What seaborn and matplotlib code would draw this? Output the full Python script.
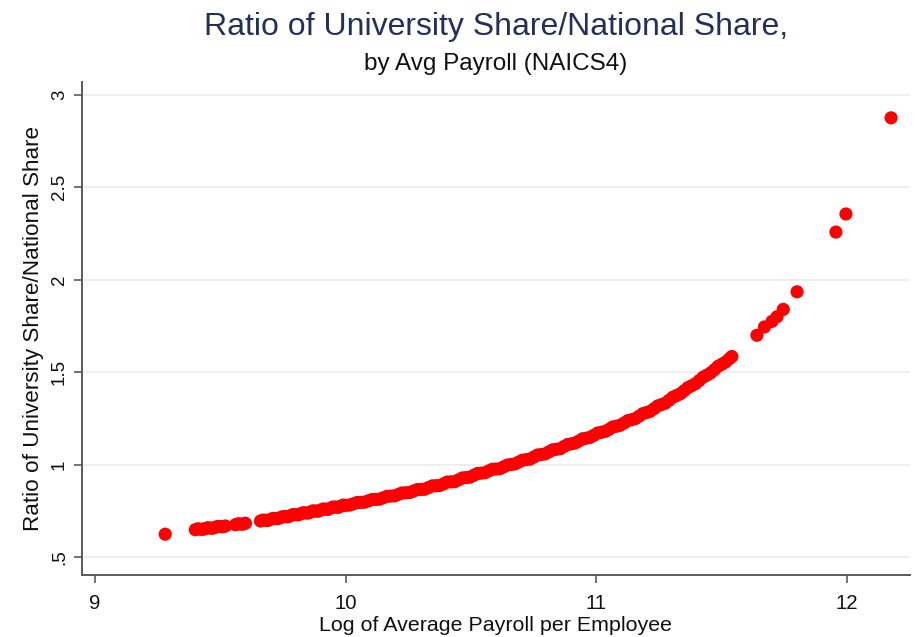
import matplotlib
matplotlib.use("Agg")
import matplotlib.pyplot as plt
import seaborn as sns
import pandas as pd

# Log of average payroll per employee (NAICS4 industries)
log_payroll = [
    9.28,
    9.40, 9.42, 9.44, 9.46, 9.48, 9.50, 9.52, 9.56, 9.58, 9.60,
    9.66, 9.68, 9.70, 9.72, 9.74, 9.76, 9.78, 9.80, 9.82, 9.84,
    9.86, 9.88, 9.90, 9.92, 9.94, 9.96, 9.98, 10.00, 10.03, 10.06,
    10.09, 10.12, 10.15, 10.18, 10.21, 10.24, 10.27, 10.30, 10.33, 10.36,
    10.39, 10.42, 10.45, 10.48, 10.51, 10.54, 10.57, 10.60, 10.63, 10.66,
    10.69, 10.72, 10.75, 10.78, 10.81, 10.84, 10.87, 10.90, 10.93, 10.96,
    10.99, 11.02, 11.05, 11.08, 11.11, 11.14, 11.17, 11.20, 11.23, 11.26,
    11.29, 11.32, 11.35, 11.38, 11.41, 11.44, 11.47, 11.50, 11.53, 11.54,
    9.41, 9.43, 9.45, 9.47, 9.49, 9.51, 9.57, 9.59, 9.67, 9.69,
    9.71, 9.73, 9.75, 9.77, 9.79, 9.81, 9.83, 9.85, 9.87, 9.89,
    9.91, 9.93, 9.95, 9.97, 9.99, 10.015, 10.045, 10.075, 10.105, 10.135,
    10.165, 10.195, 10.225, 10.255, 10.285, 10.315, 10.345, 10.375, 10.405, 10.435,
    10.465, 10.495, 10.525, 10.555, 10.585, 10.615, 10.645, 10.675, 10.705, 10.735,
    10.765, 10.795, 10.825, 10.855, 10.885, 10.915, 10.945, 10.975, 11.005, 11.035,
    11.065, 11.095, 11.125, 11.155, 11.185, 11.215, 11.245, 11.275, 11.305, 11.335,
    11.365, 11.395, 11.425, 11.455, 11.485, 11.515,
    11.64, 11.67, 11.70, 11.72, 11.745, 11.80, 11.955, 11.995, 12.175,
]
# Ratio of university share / national share
share_ratio = [
    0.624,
    0.648, 0.651, 0.654, 0.657, 0.661, 0.665, 0.668, 0.675, 0.679, 0.683,
    0.695, 0.699, 0.704, 0.709, 0.714, 0.719, 0.724, 0.729, 0.734, 0.739,
    0.744, 0.749, 0.754, 0.759, 0.765, 0.770, 0.775, 0.780, 0.788, 0.796,
    0.804, 0.812, 0.821, 0.830, 0.839, 0.848, 0.857, 0.866, 0.876, 0.886,
    0.896, 0.907, 0.918, 0.930, 0.942, 0.954, 0.966, 0.976, 0.988, 1.001,
    1.014, 1.027, 1.041, 1.055, 1.069, 1.083, 1.098, 1.113, 1.128, 1.143,
    1.159, 1.175, 1.191, 1.208, 1.225, 1.243, 1.262, 1.282, 1.303, 1.325,
    1.349, 1.374, 1.400, 1.427, 1.455, 1.484, 1.513, 1.543, 1.573, 1.585,
    0.653, 0.650, 0.659, 0.656, 0.666, 0.664, 0.680, 0.678, 0.700, 0.698,
    0.709, 0.708, 0.719, 0.718, 0.730, 0.728, 0.740, 0.738, 0.750, 0.748,
    0.760, 0.758, 0.771, 0.769, 0.781, 0.781, 0.795, 0.797, 0.811, 0.813,
    0.829, 0.831, 0.847, 0.849, 0.865, 0.867, 0.885, 0.887, 0.906, 0.908,
    0.928, 0.932, 0.952, 0.956, 0.975, 0.978, 0.998, 1.004, 1.024, 1.030,
    1.052, 1.058, 1.080, 1.086, 1.109, 1.117, 1.140, 1.148, 1.171, 1.180,
    1.204, 1.213, 1.238, 1.249, 1.276, 1.289, 1.318, 1.333, 1.365, 1.384,
    1.417, 1.438, 1.473, 1.496, 1.532, 1.555,
    1.700, 1.745, 1.775, 1.800, 1.840, 1.935, 2.258, 2.356, 2.876,
]

x_ticks = [9, 10, 11, 12]
x_tick_labels = ["9", "10", "11", "12"]
y_ticks = [0.5, 1, 1.5, 2, 2.5, 3]
y_tick_labels = [".5", "1", "1.5", "2", "2.5", "3"]

df = pd.DataFrame({"x": log_payroll, "y": share_ratio})

sns.set_theme(style="white")
plt.rcParams["font.family"] = ["Liberation Sans", "DejaVu Sans"]

fig = plt.figure(figsize=(9.23, 6.37), dpi=100)
ax = fig.add_axes([0.0888, 0.0973, 0.897, 0.774])

ax.set_xlim(8.948, 12.25)
ax.set_ylim(0.403, 3.07)
for yv in y_ticks:
    ax.axhline(yv, color="#ececec", lw=1.2, zorder=0)

sns.scatterplot(data=df, x="x", y="y", ax=ax, color="#ff0000",
                edgecolor="none", s=90, linewidth=0, zorder=3)

ax.set_xticks(x_ticks)
ax.set_xticklabels(x_tick_labels, fontsize=14.7)
ax.set_yticks(y_ticks)
ax.set_yticklabels(y_tick_labels, fontsize=13.5, rotation=90, va="center")

for side in ["top", "right"]:
    ax.spines[side].set_visible(False)
for side in ["left", "bottom"]:
    ax.spines[side].set_color("#5a5a5a")
    ax.spines[side].set_linewidth(1.4)
ax.tick_params(axis="both", which="major", direction="out", length=6,
               width=1.2, color="#5a5a5a", labelcolor="#111111", pad=4)
ax.tick_params(axis="x", pad=8)
ax.tick_params(left=True, bottom=True)

ax.set_xlabel("Log of Average Payroll per Employee", fontsize=15.4, color="#111111", labelpad=2)
ax.set_ylabel("Ratio of University Share/National Share", fontsize=16.2, color="#111111", labelpad=5)

fig.text(0.537, 0.958, "Ratio of University Share/National Share,", ha="center", va="center",
         fontsize=23, color="#25305a")
fig.text(0.537, 0.899, "by Avg Payroll (NAICS4)", ha="center", va="center",
         fontsize=17.5, color="#111111")

fig.savefig("out.png", dpi=100)
